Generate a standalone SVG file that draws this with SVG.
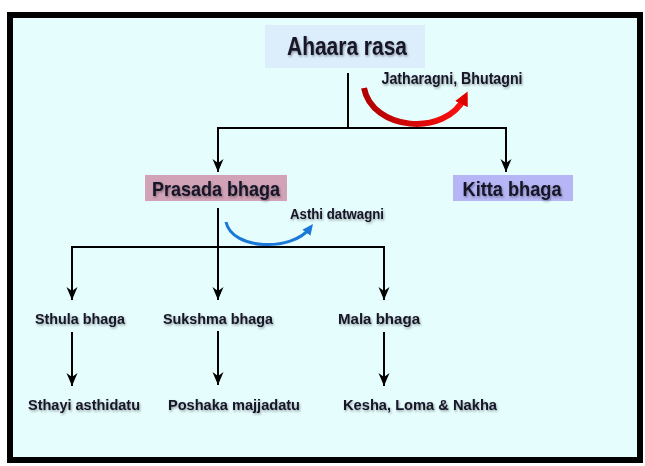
<svg xmlns="http://www.w3.org/2000/svg" width="645" height="466" viewBox="0 0 645 466">
<defs>
<style>
.t{font-family:"Liberation Sans",Arial,sans-serif;font-weight:bold;fill:#141428;text-anchor:middle}
.ln{stroke:#000;stroke-width:2;fill:none}
</style>
<filter id="sh" x="-10%" y="-30%" width="120%" height="160%">
<feDropShadow dx="1" dy="1.5" stdDeviation="1" flood-color="#000" flood-opacity="0.35"/>
</filter>
<marker id="ah" markerWidth="14" markerHeight="12" refX="13" refY="6" orient="auto" markerUnits="userSpaceOnUse">
<path d="M0,0.5 L13,6 L0,11.5 L4,6 Z" fill="#000"/>
</marker>
<marker id="ahr" markerWidth="16" markerHeight="16" refX="8" refY="8" orient="auto" markerUnits="userSpaceOnUse">
<path d="M0,1 L14,8 L0,15 Z" fill="#e00000"/>
</marker>
<marker id="ahb" markerWidth="12" markerHeight="12" refX="6" refY="6" orient="auto" markerUnits="userSpaceOnUse">
<path d="M0,1 L11,6 L0,11 Z" fill="#1a78d8"/>
</marker>
<linearGradient id="rg" x1="0" y1="0" x2="1" y2="0">
<stop offset="0" stop-color="#b00000"/>
<stop offset="1" stop-color="#ff1010"/>
</linearGradient>
</defs>
<rect x="10" y="15" width="630" height="445" fill="#e6fdfd" stroke="#000" stroke-width="6"/>
<g id="connectors">
<path class="ln" d="M348,73 V128 M217,128 H507"/>
<path class="ln" d="M218,127 V172" marker-end="url(#ah)"/>
<path class="ln" d="M506,127 V172" marker-end="url(#ah)"/>
<path class="ln" d="M218,208 V247 M71,247 H385"/>
<path class="ln" d="M72,246 V300" marker-end="url(#ah)"/>
<path class="ln" d="M218,247 V300" marker-end="url(#ah)"/>
<path class="ln" d="M384,246 V300" marker-end="url(#ah)"/>
<path class="ln" d="M72,332 V386" marker-end="url(#ah)"/>
<path class="ln" d="M218,331 V385" marker-end="url(#ah)"/>
<path class="ln" d="M384,332 V386" marker-end="url(#ah)"/>
<path d="M364,88 C372,130 445,138 465,97" fill="none" stroke="url(#rg)" stroke-width="6" marker-end="url(#ahr)"/>
<path d="M226,222 C232,250 292,252 310,228" fill="none" stroke="#1a78d8" stroke-width="3" marker-end="url(#ahb)"/>
</g>
<g id="ahaara">
<rect x="265" y="25" width="160" height="43" fill="#dcedfb"/>
<text class="t" x="347" y="55" font-size="26" textLength="120" lengthAdjust="spacingAndGlyphs" filter="url(#sh)">Ahaara rasa</text>
</g>
<g id="jatharagni">
<text class="t" x="452" y="84" font-size="16" textLength="141" lengthAdjust="spacingAndGlyphs" filter="url(#sh)">Jatharagni, Bhutagni</text>
</g>
<g id="prasada">
<rect x="145" y="175" width="142" height="26" fill="#d2a3b6"/>
<text class="t" x="216" y="196" font-size="21" textLength="128" lengthAdjust="spacingAndGlyphs" filter="url(#sh)">Prasada bhaga</text>
</g>
<g id="kitta">
<rect x="453" y="175" width="120" height="26" fill="#b6b6f6"/>
<text class="t" x="512" y="196" font-size="21" textLength="99" lengthAdjust="spacingAndGlyphs" filter="url(#sh)">Kitta bhaga</text>
</g>
<g id="asthi">
<text class="t" x="337" y="219" font-size="14" textLength="94" lengthAdjust="spacingAndGlyphs" filter="url(#sh)">Asthi datwagni</text>
</g>
<g id="sthula">
<text class="t" x="80" y="324" font-size="15" textLength="90" lengthAdjust="spacingAndGlyphs" filter="url(#sh)">Sthula bhaga</text>
</g>
<g id="sukshma">
<text class="t" x="218" y="324" font-size="15" textLength="110" lengthAdjust="spacingAndGlyphs" filter="url(#sh)">Sukshma bhaga</text>
</g>
<g id="mala">
<text class="t" x="379" y="324" font-size="15" textLength="82" lengthAdjust="spacingAndGlyphs" filter="url(#sh)">Mala  bhaga</text>
</g>
<g id="sthayi">
<text class="t" x="84" y="410" font-size="15" textLength="112" lengthAdjust="spacingAndGlyphs" filter="url(#sh)">Sthayi asthidatu</text>
</g>
<g id="poshaka">
<text class="t" x="234" y="410" font-size="15" textLength="132" lengthAdjust="spacingAndGlyphs" filter="url(#sh)">Poshaka majjadatu</text>
</g>
<g id="kesha">
<text class="t" x="420" y="410" font-size="15" textLength="154" lengthAdjust="spacingAndGlyphs" filter="url(#sh)">Kesha, Loma &amp; Nakha</text>
</g>
</svg>
